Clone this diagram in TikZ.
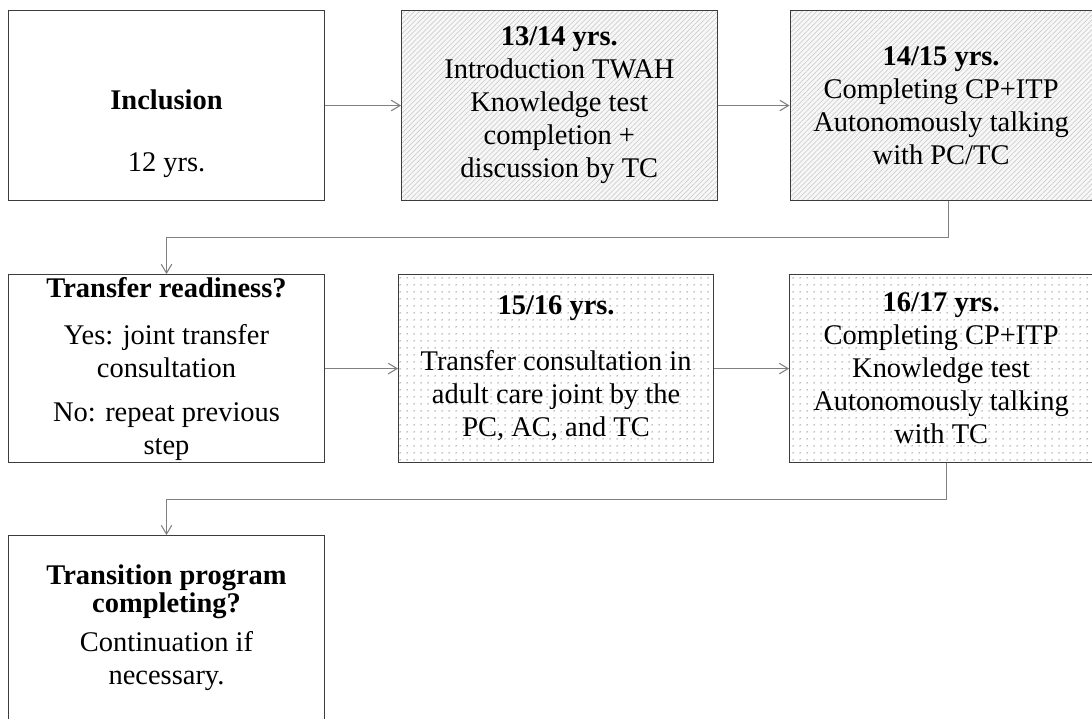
\documentclass[tikz,border=0pt]{standalone}
\usepackage{fontspec}
\setmainfont{Liberation Serif}
\usepackage{tikz}
\usetikzlibrary{arrows.meta,positioning,patterns.meta,calc}
\definecolor{boxLine}{RGB}{60,60,60}
\definecolor{linkGray}{RGB}{128,128,128}

\begin{document}
\begin{tikzpicture}[
  font=\fontsize{16.2pt}{18.8pt}\selectfont,
  b/.style={draw=boxLine,line width=0.6pt,align=center,inner sep=0pt,minimum width=6.32cm,minimum height=3.8cm},
  hatchbox/.style={b,preaction={fill=gray!6},pattern={Lines[angle=45,distance=2pt,line width=0.3pt]},pattern color=gray!45},
  dotbox/.style={b,pattern={Dots[distance=4pt,radius=0.45pt]},pattern color=gray},
  arrow/.style={-{Straight Barb[length=5pt,width=6pt]},draw=linkGray,line width=0.6pt}
]
  \useasboundingbox (0,0) rectangle (21.84,-14.38);
  \node[b,anchor=north west] (incl) at (0.16,-0.2) {~\\[0.85cm]\textbf{Inclusion}\\[0.58cm]12 yrs.};
  \node[hatchbox,right=1.52cm of incl] (intro) {\textbf{13/14 yrs.}\\Introduction TWAH\\Knowledge test\\completion +\\discussion by TC};
  \node[hatchbox,right=1.44cm of intro,minimum width=6.04cm] (comp) {\textbf{14/15 yrs.}\\Completing CP+ITP\\Autonomously talking\\with PC/TC};
  \node[b,below=1.46cm of incl,minimum height=3.76cm] (ready) {\textbf{Transfer readiness?}\\[0.28cm]Yes: joint transfer\\consultation\\[0.22cm]No: repeat previous\\step};
  \node[dotbox,right=1.46cm of ready,minimum width=6.3cm,minimum height=3.76cm] (joint) {\textbf{15/16 yrs.}\\[0.46cm]Transfer consultation in\\adult care joint by the\\PC, AC, and TC};
  \node[dotbox,right=1.5cm of joint,minimum width=6.06cm,minimum height=3.76cm] (test) {\textbf{16/17 yrs.}\\Completing CP+ITP\\Knowledge test\\Autonomously talking\\with TC};
  \node[b,below=1.44cm of ready,minimum height=3.7cm] (prog) {\textbf{Transition program}\\[-0.1cm]\textbf{completing?}\\[0.12cm]Continuation if\\necessary.};
  \draw[arrow] (incl) -- (intro);
  \draw[arrow] (intro) -- (comp);
  \draw[arrow] ([xshift=0.14cm]comp.south) -- ++(0,-0.73) -| (ready.north);
  \draw[arrow] (ready) -- (joint);
  \draw[arrow] (joint) -- (test);
  \draw[arrow] ([xshift=0.11cm]test.south) -- ++(0,-0.72) -| (prog.north);
\end{tikzpicture}
\end{document}
